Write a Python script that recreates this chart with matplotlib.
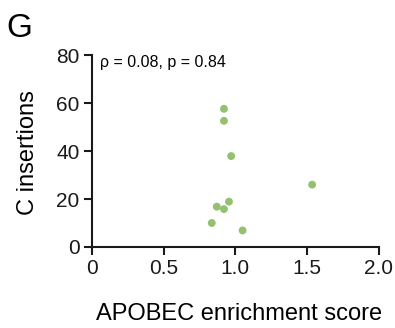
import matplotlib
matplotlib.use("Agg")
import matplotlib.pyplot as plt

# APOBEC enrichment score vs C insertions
apobec_score = [0.92, 0.92, 0.97, 1.535, 0.955, 0.87, 0.92, 0.835, 1.05]
c_insertions = [57.6, 52.6, 37.9, 26.0, 18.9, 16.8, 15.8, 10.0, 6.9]

x_ticks = [0, 0.5, 1.0, 1.5, 2.0]
x_tick_labels = ["0", "0.5", "1.0", "1.5", "2.0"]
y_ticks = [0, 20, 40, 60, 80]

plt.rcParams['font.family'] = ['Liberation Sans', 'DejaVu Sans']

fig = plt.figure(figsize=(3.95, 3.28), dpi=100)
ax = fig.add_axes([0.233, 0.247, 0.726, 0.585])

ax.scatter(apobec_score, c_insertions, s=32, color='#93c170', edgecolors='none', zorder=3)

ax.set_xlim(0, 2.0)
ax.set_ylim(0, 80)
ax.set_xticks(x_ticks)
ax.set_xticklabels(x_tick_labels)
ax.set_yticks(y_ticks)

for s in ['top', 'right']:
    ax.spines[s].set_visible(False)
for s in ['left', 'bottom']:
    ax.spines[s].set_linewidth(1.5)
    ax.spines[s].set_color('#1a1a1a')
ax.tick_params(axis='both', direction='out', length=6, width=1.5, labelsize=15,
               colors='#1a1a1a', pad=3)

ax.set_xlabel('APOBEC enrichment score', fontsize=17, va='baseline')
ax.xaxis.set_label_coords(0.512, -0.38)
ax.set_ylabel('C insertions', fontsize=17, va='center')
ax.yaxis.set_label_coords(-0.223, 0.492)

ax.text(0.028, 0.9375, 'ρ = 0.08, p = 0.84', transform=ax.transAxes, fontsize=11.5,
        ha='left', va='baseline')

fig.text(0.015, 0.887, 'G', fontsize=24, ha='left', va='baseline')

fig.savefig('out.png', dpi=100)
